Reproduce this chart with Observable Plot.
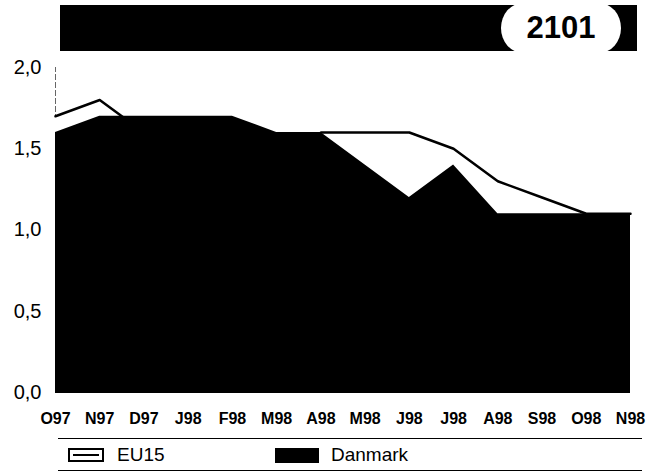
<!DOCTYPE html>
<html>
<head>
<meta charset="utf-8">
<script src="https://cdn.jsdelivr.net/npm/d3@7"></script>
<script src="https://cdn.jsdelivr.net/npm/@observablehq/plot@0.6"></script>
<style>
  body { margin:0; width:653px; height:475px; overflow:hidden; background:#fff; font-family:"Liberation Sans", Arial, sans-serif; }
  #banner { position:relative; height:57px; }
  #bar { position:absolute; left:60px; top:5px; width:577px; height:46px; background:#000; }
  #pill { position:absolute; left:501px; top:3px; width:120px; height:50px; background:#fff; border-radius:22px / 25px;
          font-weight:bold; font-size:31px; line-height:50px; text-align:center; color:#000; letter-spacing:0px; }
  #legend { position:relative; height:38px; }
  .rule { position:absolute; left:58px; width:584px; height:0; border-top:1.5px solid #000; }
  .ltxt { position:absolute; top:8px; font-size:19px; line-height:20px; color:#000; }
</style>
</head>
<body>
<div id="banner"><div id="bar"></div><div id="pill">2101</div></div>
<div id="chart" style="height:380px"></div>
<div id="legend">
  <div class="rule" style="top:1px"></div>
  <div style="position:absolute;left:68px;top:11px;width:32px;height:10px;border:2.5px solid #000;background:#fff;">
    <div style="position:absolute;left:3px;top:4px;width:26px;height:0;border-top:2.5px solid #000;"></div>
  </div>
  <div class="ltxt" style="left:117px">EU15</div>
  <div style="position:absolute;left:275px;top:11px;width:44px;height:15px;background:#000;"></div>
  <div class="ltxt" style="left:331px">Danmark</div>
  <div class="rule" style="top:33px"></div>
</div>
<script>
const months  = ["O97","N97","D97","J98","F98","M98","A98","M98","J98","J98","A98","S98","O98","N98"];
const eu15    = [1.7, 1.8, 1.6, 1.3, 1.4, 1.3, 1.6, 1.6, 1.6, 1.5, 1.3, 1.2, 1.1, 1.1];
const danmark = [1.6, 1.7, 1.7, 1.7, 1.7, 1.6, 1.6, 1.4, 1.2, 1.4, 1.1, 1.1, 1.1, 1.1];
const yTicks  = [0, 0.5, 1, 1.5, 2];

const data = months.map((m, i) => ({i, m, eu15: eu15[i], danmark: danmark[i]}));
const fmt = d => d.toFixed(1).replace(".", ",");

const chart = Plot.plot({
  width: 653,
  height: 380,
  marginTop: 10,
  marginBottom: 45,
  marginLeft: 55,
  marginRight: 23,
  x: {domain: [0, months.length - 1]},
  y: {domain: [0, 2]},
  style: {background: "#fff", color: "#000", overflow: "visible"},
  marks: [
    Plot.ruleX([0], {y1: 0, y2: 2, stroke: "#666", strokeWidth: 1, strokeDasharray: "6,2"}),
    Plot.areaY(data, {x: "i", y: "eu15", fill: "#fff", curve: "linear"}),
    Plot.lineY(data, {x: "i", y: "eu15", stroke: "#000", strokeWidth: 2.5, curve: "linear"}),
    Plot.areaY(data, {x: "i", y: "danmark", fill: "#000", curve: "linear"}),
    Plot.ruleY([0], {stroke: "#000", strokeWidth: 1}),
    Plot.axisY(yTicks, {tickSize: 0, tickPadding: 14, tickFormat: fmt, fontSize: 20,
      fontFamily: "Liberation Sans, Arial, sans-serif", letterSpacing: "2.5px", label: null}),
    Plot.axisX(d3.range(months.length), {tickSize: 0, tickPadding: 20, tickFormat: i => months[i],
      fontSize: 16, fontWeight: "bold", fontFamily: "Liberation Sans Narrow, Arial Narrow, Liberation Sans, sans-serif",
      label: null})
  ]
});
document.getElementById("chart").appendChild(chart);
</script>
</body>
</html>
